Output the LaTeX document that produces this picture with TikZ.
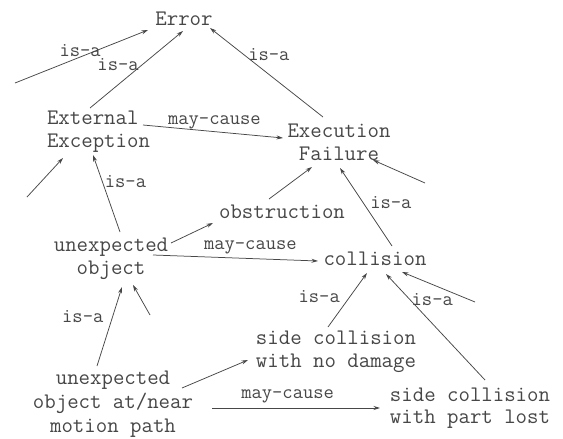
\documentclass[tikz,border=0pt]{standalone}
\usepackage{fontspec}
\usetikzlibrary{arrows.meta}
\begin{document}
\begin{tikzpicture}[x=1pt,y=-1pt,
  concept/.style={text=black!72, font=\ttfamily\fontsize{22.2}{23}\selectfont, inner sep=2pt, align=center},
  lab/.style={text=black!72, font=\ttfamily\fontsize{20}{20}\selectfont, inner sep=1pt},
  arr/.style={draw=black!72, line width=0.75pt, -{Stealth[length=6.5pt,width=4pt]}},
]
\useasboundingbox[fill=white] (0,0) rectangle (563,439);
% concepts
\node[concept] (err) at (184,18.5) {Error};
\node[concept, align=left] (ext) at (98.5,132) {External\\Exception};
\node[concept] (fail) at (339,142) {Execution\\Failure};
\node[concept] (obs) at (282,212) {obstruction};
\node[concept] (uo) at (111,259) {unexpected\\object};
\node[concept] (col) at (375,259) {collision};
\node[concept] (scnd) at (336,352) {side collision\\with no damage};
\node[concept, font=\ttfamily\fontsize{22.2}{24}\selectfont] (uoamp) at (113,404) {unexpected\\object at/near\\motion path};
\node[concept, font=\ttfamily\fontsize{22.2}{21.5}\selectfont] (scpl) at (470,408) {side collision\\with part lost};
% free ends
\coordinate (s1a) at (15,83);
\coordinate (s1b) at (148,30);
\coordinate (s5) at (27,197);
\coordinate (s10) at (425,183);
\coordinate (s13) at (150,315);
\coordinate (s18) at (475,302);
% connectors
\draw[arr] (s1a) -- (s1b) node[lab, pos=0.49, yshift=6pt] (l1) {is-a};
\draw[arr] ([shift={(-8.5,-24)}]ext.center) -- ([shift={(-1,12.5)}]err.center)
  node[lab, pos=0.56, xshift=-24pt] (l2) {is-a};
\draw[arr] ([shift={(-16,-25)}]fail.center) -- ([shift={(26,9.5)}]err.center)
  node[lab, pos=0.7, xshift=25pt] (l3) {is-a};
\draw[arr] ([shift={(44.5,-7)}]ext.center) -- ([shift={(-56,-4)}]fail.center)
  node[lab, pos=0.51, yshift=9pt] (l4) {may-cause};
\draw[arr] (s5) -- ([shift={(-35.5,26)}]ext.center);
\draw[arr] ([shift={(9,-27)}]uo.center) -- ([shift={(-5.5,23)}]ext.center)
  node[lab, pos=0.65, xshift=23pt] (l6) {is-a};
\draw[arr] ([shift={(60,-16)}]uo.center) -- ([shift={(-69,11)}]obs.center);
\draw[arr] ([shift={(-13,-13)}]obs.center) -- ([shift={(-27,25)}]fail.center);
\draw[arr] ([shift={(17,-13)}]col.center) -- ([shift={(1,26)}]fail.center)
  node[lab, pos=0.56, xshift=28pt] (l9) {is-a};
\draw[arr] (s10) -- ([shift={(34,18)}]fail.center);
\draw[arr] ([shift={(42,-4)}]uo.center) -- ([shift={(-57,2)}]col.center)
  node[lab, pos=0.59, yshift=11pt] (l11) {may-cause};
\draw[arr] ([shift={(-16,-38)}]uoamp.center) -- ([shift={(11,28)}]uo.center)
  node[lab, pos=0.63, xshift=-30pt] (l12) {is-a};
\draw[arr] (s13) -- ([shift={(22,26)}]uo.center);
\draw[arr] ([shift={(69,-16)}]uoamp.center) -- ([shift={(-88,8)}]scnd.center);
\draw[arr] ([shift={(99,4)}]uoamp.center) -- ([shift={(-90,0)}]scpl.center)
  node[lab, pos=0.45, yshift=12pt] (l15) {may-cause};
\draw[arr] ([shift={(-8,-25)}]scnd.center) -- ([shift={(-8,14)}]col.center)
  node[lab, pos=0.57, xshift=-31pt] (l16) {is-a};
\draw[arr] ([shift={(15,-28)}]scpl.center) -- ([shift={(11,15)}]col.center)
  node[lab, pos=0.755, xshift=22pt] (l17) {is-a};
\draw[arr] (s18) -- ([shift={(27,13)}]col.center);
\end{tikzpicture}
\end{document}
